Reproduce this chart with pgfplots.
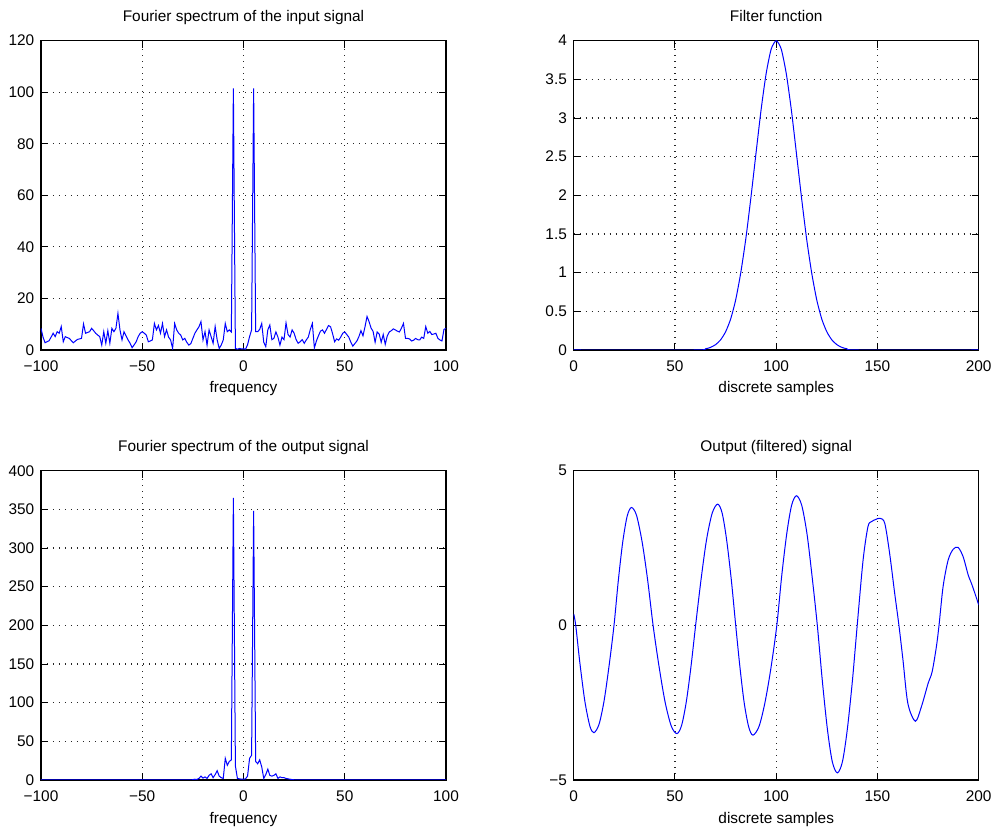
\documentclass[border=0pt]{standalone}
\usepackage{fontspec}
\setmainfont{Liberation Sans}
\usepackage{pgfplots}
\usepackage{pgfplotstable}
\pgfplotsset{compat=1.18}

\pgfplotstableread{
x y
-100 8.4
-99 5
-98 2.8
-97 3.2
-96 3.6
-95 5
-94 6.5
-93 5.2
-92 7.1
-91 6.5
-90 9.1
-89 3.2
-88 5.2
-87 4.8
-86 4.5
-85 3.6
-84 2.8
-83 3.5
-82 4.1
-81 4.3
-80 4.5
-79 10.1
-78 6.5
-77 6.8
-76 7.1
-75 8.4
-74 7.5
-73 6.5
-72 5.8
-71 5.2
-70 1.9
-69 7.1
-68 2.6
-67 7.5
-66 2.6
-65 8.4
-64 7.1
-63 8.4
-62 14.2
-61 7.8
-60 3.9
-59 7.1
-58 5.5
-57 3.9
-56 2.6
-55 0.9
-54 2
-53 3.2
-52 5.2
-51 6.5
-50 7.1
-49 6.5
-48 5.8
-47 3.2
-46 3.5
-45 3.9
-44 10.3
-43 7.8
-42 9.5
-41 6.5
-40 10.3
-39 5.2
-38 7.8
-37 5
-36 3.9
-35 0.6
-34 10.3
-33 7.8
-32 6.5
-31 5.8
-30 3.9
-29 4.5
-28 3
-27 1.9
-26 2.5
-25 4.5
-24 6.5
-23 7.8
-22 9
-21 11
-20 3.9
-19 7.1
-18 1.9
-17 7.8
-16 5.2
-15 2.6
-14 9.1
-13 3.9
-12 0.6
-11 1.9
-10 3.9
-9 10.3
-8 7.1
-7 7.8
-6 7
-5 101.5
-4 0.6
-3 0.3
-2 0.6
-1 0.4
0 0.5
1 0.3
2 2
3 5.2
4 7.8
5 101.5
6 7.1
7 7.1
8 8
9 10.3
10 3
11 1.3
12 7.8
13 9.7
14 4
15 4.5
16 7
17 5
18 1.9
19 5
20 4
21 10.5
22 6
23 5
24 7.8
25 6.5
26 4
27 2.6
28 3.2
29 4
30 2.6
31 3.9
32 5
33 8
34 10.3
35 0.8
36 3.5
37 5.5
38 7.3
39 7.8
40 6.5
41 8
42 9.5
43 9
44 6.3
45 3.2
46 4.3
47 3.8
48 5
49 6.5
50 7
51 6
52 5
53 3
54 1.5
55 2.5
56 3.5
57 5.2
58 7.5
59 5.5
60 9
61 13
62 11
63 8.5
64 7.2
65 3
66 7
67 6.2
68 3
69 6
70 2.2
71 5.5
72 7
73 7.5
74 8.2
75 7.8
76 7.3
77 7
78 8.5
79 10.3
80 4.5
81 4.5
82 4.3
83 3.5
84 3.8
85 4.5
86 4
87 3.9
88 5
89 4.5
90 9.1
91 6.5
92 7.2
93 6
94 6.2
95 6.5
96 4.5
97 3.9
98 3.5
99 8
100 8.4
}\inspec

\pgfplotstableread{
x y
0 0
60 0
65 0.015
67.5 0.033
70 0.068
72.5 0.13
75 0.235
77.5 0.40
80 0.65
82.5 1.00
85 1.44
87.5 1.97
90 2.54
92.5 3.10
95 3.57
97.5 3.89
100 4.0
102.5 3.89
105 3.57
107.5 3.10
110 2.54
112.5 1.97
115 1.44
117.5 1.00
120 0.65
122.5 0.40
125 0.235
127.5 0.13
130 0.068
132.5 0.033
135 0.015
140 0
200 0
}\filt

\pgfplotstableread{
x y
-100 0
-26 0
-25 0.5
-24 1
-23 0.8
-22 2
-21 5
-20 2.5
-19 4
-18 2
-17 6
-16 8
-15 3
-14 7
-13 12
-12 5
-11 3
-10 2
-9 28
-8 19
-7 24
-6 26
-5 365
-4 18
-3 2
-2 1.5
-1 1
0 1
1 1.5
2 5
3 28
4 32
5 348
6 24
7 21
8 26
9 17
10 2
11 7
12 14
13 6
14 5
15 6
16 8
17 2
18 4
19 3
20 3
21 2
22 1.5
23 1
24 0.5
25 0.3
26 0
100 0
}\outspec

\pgfplotstableread{
x y
0 0.37
1 0
3 -1.19
5.5 -2.45
8 -3.26
10 -3.47
12.5 -3.2
15 -2.44
17.5 -1.29
19.9 0
22 1.43
24.2 2.69
26.4 3.53
28.5 3.81
31 3.56
33.8 2.69
36.5 1.47
39.2 0
42 -1.27
45.1 -2.47
48.2 -3.26
51 -3.5
53.3 -3.23
55.6 -2.47
57.9 -1.34
60.2 0
62.9 1.49
65.6 2.77
68.4 3.63
71.1 3.92
73.3 3.63
75.5 2.77
77.8 1.49
80 0
82.1 -1.36
84.2 -2.51
86.4 -3.28
88.5 -3.55
91.5 -3.27
94.4 -2.51
97.3 -1.42
100.3 0
102.7 1.59
105.2 2.96
107.6 3.88
110 4.19
112.6 3.88
115.2 2.96
117.7 1.59
120.3 0
122.8 -1.81
125.3 -3.37
127.7 -4.41
130.2 -4.77
132.7 -4.41
135.1 -3.37
137.6 -1.81
140 0
142.9 2.11
145.3 3.19
147 3.35
149 3.42
151.3 3.46
153.6 3.3
156 2.33
158.5 1.04
160.6 0
162.6 -1.12
165 -2.52
168.7 -3.1
171.7 -2.63
175 -1.88
177 -1.5
179.1 -0.69
180.4 0
182.4 1.25
184.9 2.11
187.4 2.46
189.8 2.52
192.3 2.22
194.8 1.63
196.4 1.36
198.4 0.98
200 0.66
}\outsig

\pgfplotsset{mat/.style={
  scale only axis, width=202.5pt, height=154.65pt,
  axis line style={line width=0.6pt, black},
  every tick/.style={black, line width=0.5pt},
  tick align=inside, major tick length=3.5pt, tick pos=both,
  grid=major, grid style={black!85, line width=0.55pt, dash pattern=on 0.6pt off 2.4pt},
  font=\fontsize{7.7}{9}\selectfont,
  /pgf/number format/assume math mode=true,
  xticklabel style={anchor=base, yshift=-10.8pt, inner sep=0pt},
  yticklabel style={anchor=east, xshift=-3.2pt, inner sep=0pt},
  title style={at={(0.5,1)}, anchor=base, yshift=3.8pt, inner sep=0pt},
  xlabel style={at={(axis description cs:0.5,0)}, anchor=base, yshift=-21.5pt, inner sep=0pt},
}}

\begin{document}
\begin{tikzpicture}
\useasboundingbox (0,0) rectangle (497pt,414pt);

\begin{axis}[mat, at={(20.5pt,239pt)}, anchor=south west,
  xmin=-100, xmax=100, ymin=0, ymax=120,
  xtick={-100,-50,0,50,100}, xticklabels={−100,−50,0,50,100},
  ytick={0,20,40,60,80,100,120},
  title={Fourier spectrum of the input signal}, xlabel={frequency}]
\addplot[color=blue, line width=0.5pt, mark=none] table[x=x,y=y] {\inspec};
\end{axis}

\begin{axis}[mat, at={(286.85pt,239pt)}, anchor=south west,
  xmin=0, xmax=200, ymin=0, ymax=4,
  xtick={0,50,100,150,200},
  ytick={0,0.5,1,1.5,2,2.5,3,3.5,4},
  yticklabels={0,0.5,1,1.5,2,2.5,3,3.5,4},
  title={Filter function}, xlabel={discrete samples}]
\addplot[color=blue, line width=0.5pt, mark=none, smooth, tension=0.4] table[x=x,y=y] {\filt};
\end{axis}

\begin{axis}[mat, at={(20.5pt,24pt)}, anchor=south west,
  xmin=-100, xmax=100, ymin=0, ymax=400,
  xtick={-100,-50,0,50,100}, xticklabels={−100,−50,0,50,100},
  ytick={0,50,100,150,200,250,300,350,400},
  title={Fourier spectrum of the output signal}, xlabel={frequency}]
\addplot[color=blue, line width=0.5pt, mark=none] table[x=x,y=y] {\outspec};
\end{axis}

\begin{axis}[mat, at={(286.85pt,24pt)}, anchor=south west,
  xmin=0, xmax=200, ymin=-5, ymax=5,
  xtick={0,50,100,150,200},
  ytick={-5,0,5}, yticklabels={−5,0,5},
  title={Output (filtered) signal}, xlabel={discrete samples}]
\addplot[color=blue, line width=0.5pt, mark=none, smooth, tension=0.5] table[x=x,y=y] {\outsig};
\end{axis}
\end{tikzpicture}
\end{document}
